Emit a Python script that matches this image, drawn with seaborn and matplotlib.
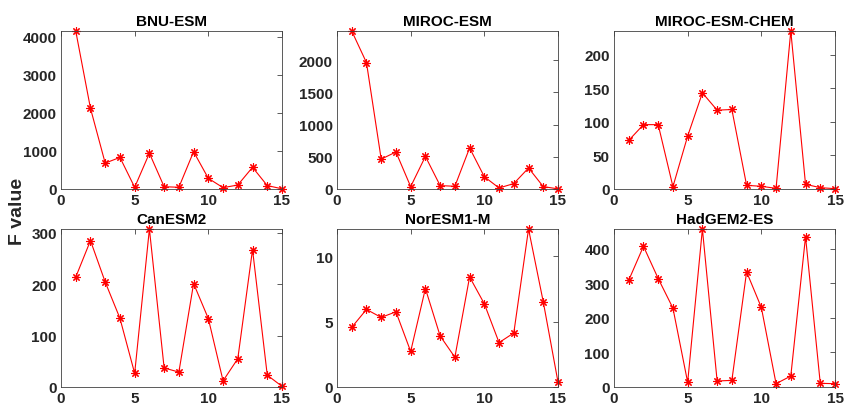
import numpy as np
import pandas as pd
import matplotlib
matplotlib.use("Agg")
import matplotlib.pyplot as plt
import seaborn as sns

sns.set_theme(style="white")
plt.rcParams['font.family'] = ['Liberation Sans', 'DejaVu Sans']

x = list(range(1, 16))
titles = ["BNU-ESM", "MIROC-ESM", "MIROC-ESM-CHEM", "CanESM2", "NorESM1-M", "HadGEM2-ES"]

bnu_esm = [4150, 2120, 680, 830, 45, 940, 60, 45, 980, 280, 35, 105, 570, 90, 5]
miroc_esm = [2450, 1960, 463, 574, 37, 505, 53, 42, 637, 190, 16, 84, 326, 37, 2]
miroc_esm_chem = [72.5, 96, 96, 3.5, 79, 143.4, 117.6, 118.6, 5.5, 4, 1, 235.7, 7, 2, 0.5]
canesm2 = [213.5, 284.5, 204, 133.5, 26.5, 307, 37, 29, 201, 133, 12, 55, 267, 23, 1.3]
noresm1_m = [4.57, 5.94, 5.33, 5.76, 2.72, 7.54, 3.91, 2.28, 8.43, 6.37, 3.40, 4.14, 12.1, 6.52, 0.38]
hadgem2_es = [308.6, 406.7, 313.5, 228, 13.5, 456.7, 17.3, 19.2, 332.7, 230, 9.6, 31.7, 434.6, 10.6, 9.6]

series = [bnu_esm, miroc_esm, miroc_esm_chem, canesm2, noresm1_m, hadgem2_es]
yticks = [
    [0, 1000, 2000, 3000, 4000],
    [0, 500, 1000, 1500, 2000],
    [0, 50, 100, 150, 200],
    [0, 100, 200, 300],
    [0, 5, 10],
    [0, 100, 200, 300, 400],
]
xticks = [0, 5, 10, 15]

W, H = 844, 410
fig = plt.figure(figsize=(W / 100, H / 100), dpi=100)

lefts = [61, 337, 614]
tops = [32, 230]
aw, ah = 221, 158
txt = "#262626"

for i, (t, vals) in enumerate(zip(titles, series)):
    r, c = divmod(i, 3)
    ax = fig.add_axes([lefts[c] / W, 1 - (tops[r] + ah) / H, aw / W, ah / H])
    df = pd.DataFrame({"x": x, "F": vals})
    sns.lineplot(data=df, x="x", y="F", ax=ax, color="red", lw=0.8,
                 marker=(8, 2, 0), markersize=6, markeredgecolor="red",
                 markerfacecolor="red", markeredgewidth=0.8, clip_on=False)
    ax.set_xlim(0, 15)
    ax.set_ylim(0, max(vals))
    ax.set_xticks(xticks)
    ax.set_yticks(yticks[i])
    ax.set_xlabel("")
    ax.set_ylabel("")
    ax.set_title(t, fontsize=11, fontweight="bold", color="black", pad=4)
    ax.tick_params(direction="in", length=3.5, width=0.6, color="#404040",
                   top=True, right=True, labelsize=11, labelcolor=txt, pad=3)
    for lab in ax.get_xticklabels() + ax.get_yticklabels():
        lab.set_fontweight("bold")
    for s in ax.spines.values():
        s.set_color("#404040")
        s.set_linewidth(0.6)
    ax.set_facecolor("white")

fig.text(17 / W, 1 - 211 / H, "F value", rotation=90, fontsize=14,
         fontweight="bold", color=txt, ha="center", va="center")

fig.savefig("out.png", dpi=100, facecolor="white")
